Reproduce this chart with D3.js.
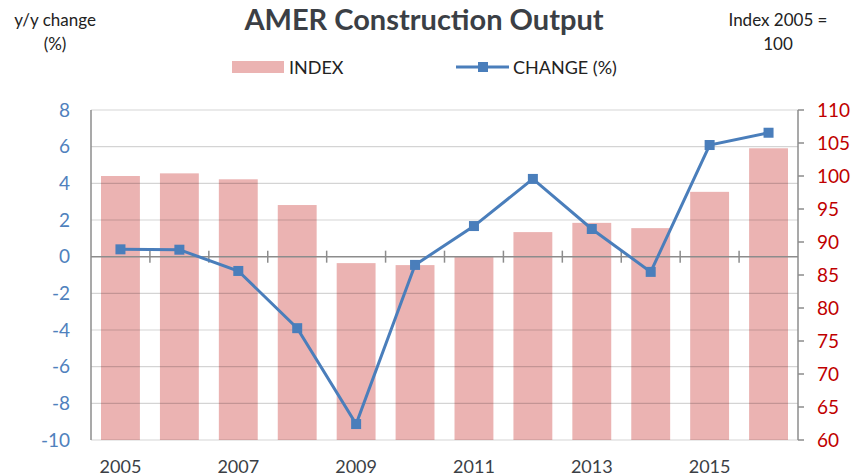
<!DOCTYPE html>
<meta charset="utf-8">
<title>AMER Construction Output</title>
<script src="https://d3js.org/d3.v7.min.js"></script>
<style>
  body { margin: 0; background: #fff; }
  text { font-family: Lato, "Open Sans", sans-serif; }
</style>
<body>
</body>
<script>
var years = ["2005","2006","2007","2008","2009","2010","2011","2012","2013","2014","2015","2016"];
var indexValues = [100.0, 100.4, 99.5, 95.6, 86.8, 86.5, 87.8, 91.5, 92.9, 92.1, 97.6, 104.2];
var changeValues = [0.40, 0.38, -0.78, -3.9, -9.13, -0.45, 1.67, 4.24, 1.51, -0.83, 6.09, 6.76];
var leftTicks = [-10, -8, -6, -4, -2, 0, 2, 4, 6, 8];
var rightTicks = [60, 65, 70, 75, 80, 85, 90, 95, 100, 105, 110];
var yearLabels = ["2005", "2007", "2009", "2011", "2013", "2015"];

var width = 864, height = 476;
var plotLeft = 91, plotRight = 798, plotTop = 110, plotBottom = 440;

var svg = d3.select("body").append("svg")
            .attr("width", width)
            .attr("height", height);

var x = d3.scaleBand().domain(years).range([plotLeft, plotRight]).paddingInner(0.34).paddingOuter(0.17);
var xStep = d3.scaleBand().domain(years).range([plotLeft, plotRight]);
var yL = d3.scaleLinear().domain([-10, 8]).range([plotBottom, plotTop]);
var yR = d3.scaleLinear().domain([60, 110]).range([plotBottom, plotTop]);

// bars
svg.selectAll("rect.bar")
   .data(years)
   .enter()
   .append("rect")
   .attr("class", "bar")
   .attr("x", function (d) { return x(d); })
   .attr("width", x.bandwidth())
   .attr("y", function (d, i) { return yR(indexValues[i]); })
   .attr("height", function (d, i) { return plotBottom - yR(indexValues[i]); })
   .attr("fill", "#ebb3b2");

// gridlines
svg.selectAll("line.grid")
   .data(leftTicks.filter(function (t) { return t != 0; }))
   .enter()
   .append("line")
   .attr("class", "grid")
   .attr("x1", plotLeft).attr("x2", plotRight)
   .attr("y1", function (d) { return yL(d); })
   .attr("y2", function (d) { return yL(d); })
   .attr("stroke", "rgba(0,0,0,0.17)")
   .attr("stroke-width", 1.2);

// left axis line
svg.append("line")
   .attr("x1", plotLeft).attr("x2", plotLeft).attr("y1", plotTop).attr("y2", plotBottom)
   .attr("stroke", "#8c8c8c").attr("stroke-width", 1.5);

// right axis
svg.append("line")
   .attr("x1", plotRight).attr("x2", plotRight).attr("y1", plotTop).attr("y2", plotBottom)
   .attr("stroke", "#8c8c8c").attr("stroke-width", 1.5);
svg.selectAll("line.rtick")
   .data(rightTicks)
   .enter()
   .append("line")
   .attr("class", "rtick")
   .attr("x1", plotRight).attr("x2", plotRight + 6)
   .attr("y1", function (d) { return yR(d); })
   .attr("y2", function (d) { return yR(d); })
   .attr("stroke", "#8c8c8c").attr("stroke-width", 1.5);

// zero axis with category ticks
svg.append("line")
   .attr("x1", plotLeft).attr("x2", plotRight).attr("y1", yL(0)).attr("y2", yL(0))
   .attr("stroke", "#8c8c8c").attr("stroke-width", 1.5);
svg.selectAll("line.xtick")
   .data(years.slice(1))
   .enter()
   .append("line")
   .attr("class", "xtick")
   .attr("x1", function (d) { return xStep(d); })
   .attr("x2", function (d) { return xStep(d); })
   .attr("y1", yL(0) - 6)
   .attr("y2", yL(0) + 6)
   .attr("stroke", "#8c8c8c").attr("stroke-width", 1.5);

// left tick labels
svg.selectAll("text.lt")
   .data(leftTicks)
   .enter()
   .append("text")
   .attr("class", "lt")
   .attr("x", 70)
   .attr("y", function (d) { return yL(d); })
   .attr("dy", "0.35em")
   .attr("text-anchor", "end")
   .attr("font-size", 19)
   .attr("fill", "#4f81bd")
   .text(function (d) { return d; });

// right tick labels
svg.selectAll("text.rt")
   .data(rightTicks)
   .enter()
   .append("text")
   .attr("class", "rt")
   .attr("x", 817)
   .attr("y", function (d) { return yR(d); })
   .attr("dy", "0.35em")
   .attr("font-size", 19)
   .attr("fill", "#c00000")
   .text(function (d) { return d; });

// year labels
svg.selectAll("text.yr")
   .data(yearLabels)
   .enter()
   .append("text")
   .attr("class", "yr")
   .attr("x", function (d) { return x(d) + x.bandwidth() / 2; })
   .attr("y", 473)
   .attr("text-anchor", "middle")
   .attr("font-size", 18)
   .attr("fill", "#3b3f45")
   .text(function (d) { return d; });

// change line
var line = d3.line()
             .x(function (d, i) { return x(years[i]) + x.bandwidth() / 2; })
             .y(function (d) { return yL(d); });
svg.append("path")
   .datum(changeValues)
   .attr("d", line)
   .attr("fill", "none")
   .attr("stroke", "#4a7ebb")
   .attr("stroke-width", 3);
svg.selectAll("rect.mk")
   .data(changeValues)
   .enter()
   .append("rect")
   .attr("class", "mk")
   .attr("x", function (d, i) { return x(years[i]) + x.bandwidth() / 2 - 5; })
   .attr("y", function (d) { return yL(d) - 5; })
   .attr("width", 10).attr("height", 10)
   .attr("fill", "#4a7ebb");

// titles
svg.append("text")
   .attr("x", 424).attr("y", 30)
   .attr("text-anchor", "middle")
   .attr("font-size", 29).attr("font-weight", "bold")
   .attr("fill", "#3b3f45")
   .text("AMER Construction Output");
svg.append("text").attr("x", 55).attr("y", 26).attr("text-anchor", "middle")
   .attr("font-size", 17).attr("fill", "#222").text("y/y change");
svg.append("text").attr("x", 55).attr("y", 50).attr("text-anchor", "middle")
   .attr("font-size", 17).attr("fill", "#222").text("(%)");
svg.append("text").attr("x", 778).attr("y", 26).attr("text-anchor", "middle")
   .attr("font-size", 17).attr("fill", "#222").text("Index 2005 =");
svg.append("text").attr("x", 778).attr("y", 50).attr("text-anchor", "middle")
   .attr("font-size", 17).attr("fill", "#222").text("100");

// legend
svg.append("rect").attr("x", 232).attr("y", 61).attr("width", 52).attr("height", 12)
   .attr("fill", "#ebb3b2");
svg.append("text").attr("x", 289).attr("y", 74).attr("font-size", 18)
   .attr("fill", "#222").text("INDEX");
svg.append("line").attr("x1", 456).attr("x2", 509).attr("y1", 67).attr("y2", 67)
   .attr("stroke", "#4a7ebb").attr("stroke-width", 3);
svg.append("rect").attr("x", 478).attr("y", 62).attr("width", 10).attr("height", 10)
   .attr("fill", "#4a7ebb");
svg.append("text").attr("x", 513).attr("y", 74).attr("font-size", 18)
   .attr("fill", "#222").text("CHANGE (%)");
</script>
